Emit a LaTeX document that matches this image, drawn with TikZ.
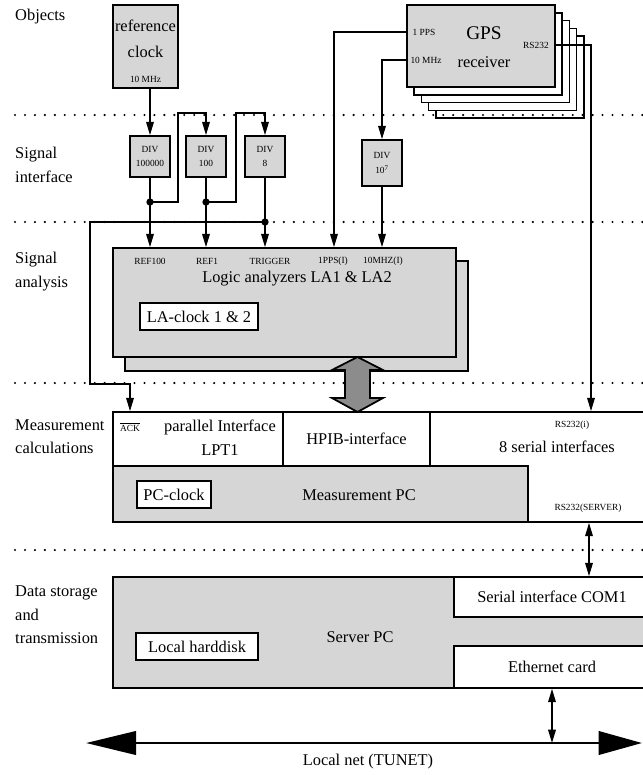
\documentclass[tikz,border=0pt]{standalone}
\usepackage{fontspec}
\setmainfont{Liberation Serif}
\usetikzlibrary{arrows.meta}

\newcommand{\pu}{0.03cm}
\newcommand{\bigfont}{\fontsize{14}{20}\selectfont}
\newcommand{\smallfont}{\fontsize{8}{12.5}\selectfont}

\tikzset{
  box/.style={draw, line width=1.5pt, inner sep=0pt},
  greybox/.style={box, fill=black!16},
  plainbox/.style={box, fill=white},
  lbl/.style={font=\bigfont, inner sep=0pt},
  port/.style={font=\smallfont, inner sep=0pt},
  sig/.style={line width=1.2pt},
  sigarrow/.style={sig, -{Triangle[length=4mm,width=2.3mm]}},
  both/.style={sig, {Triangle[length=4mm,width=2.3mm]}-{Triangle[length=4mm,width=2.3mm]}},
  sep/.style={line width=2pt, dash pattern=on 0pt off 8.5pt, line cap=round},
  net/.style={line width=2.4pt, {Triangle[length=15mm,width=7mm]}-{Triangle[length=13mm,width=7mm]}}
}

\begin{document}
\begin{tikzpicture}[x=0.03cm, y=-0.03cm]
\useasboundingbox (0,0) rectangle (643,775);
\clip (0,0) rectangle (643,775);

% layers
\node[lbl, anchor=west] (l-obj) at (15,17) {Objects};
\node[lbl, anchor=west, align=left] (l-sif) at (15,165) {Signal\\interface};
\node[lbl, anchor=west, align=left] (l-san) at (15,271.5) {Signal\\analysis};
\node[lbl, anchor=west, align=left] (l-mc) at (15,436.5) {Measurement\\calculations};
\node[lbl, anchor=west, align=left] (l-ds) at (15,615) {Data storage\\and\\transmission};

% objects
\node[greybox, minimum width=65*\pu, minimum height=83*\pu] (clk) at (145.5,46.5) {};
\node[lbl] (clk-a) at (145.5,26) {reference};
\node[lbl] (clk-b) at (145.5,52) {clock};
\node[port] (clk-f) at (145.5,79) {10 MHz};

\foreach \k in {4,3,2,1}
  \node[plainbox, minimum width=148*\pu, minimum height=82*\pu] (gps\k) at ({481+7.2*\k},{46+7.8*\k}) {};
\node[greybox, minimum width=148*\pu, minimum height=82*\pu] (gps) at (481,46) {};
\node[port] (gps-pps) at (424,32) {1 PPS};
\node[port] (gps-ten) at (426,60) {10 MHz};
\node[lbl, font=\fontsize{16.5}{18}\selectfont] (gps-a) at (484,33) {GPS};
\node[lbl] (gps-b) at (484,62) {receiver};
\node[port] (gps-rs) at (536,45) {RS232};

\foreach \y in {115,222,383,550}
  \draw[sep] (15,\y) -- (643,\y);

% signal interface
\node[greybox, minimum width=40*\pu, minimum height=41*\pu, align=center, font=\smallfont] (d1) at (150,156.5) {DIV\\100000};
\node[greybox, minimum width=40*\pu, minimum height=41*\pu, align=center, font=\smallfont] (d2) at (206,156.5) {DIV\\100};
\node[greybox, minimum width=40*\pu, minimum height=41*\pu, align=center, font=\smallfont] (d3) at (265,156.5) {DIV\\8};
\node[greybox, minimum width=40*\pu, minimum height=46*\pu, align=center, font=\smallfont] (d4) at (382,163) {DIV\\10\textsuperscript{7}};

\coordinate (j1) at (d1.south |- 0,202);
\coordinate (j2) at (d2.south |- 0,202);
\coordinate (j3) at (d3.south |- 0,222);

% signal analysis
\node[greybox, minimum width=343*\pu, minimum height=110*\pu] (la-back) at (296.5,316) {};
\node[greybox, minimum width=343*\pu, minimum height=109*\pu] (la) at (284.5,302.5) {};
\node[lbl] (la-name) at (297,279) {Logic analyzers LA1 \& LA2};
\node[plainbox, minimum width=118*\pu, minimum height=27*\pu, font=\bigfont] (laclk) at (199,316.5) {LA-clock 1 \& 2};
\node[port] (p1) at (150,261) {REF100};
\node[port] (p2) at (207,261) {REF1};
\node[port] (p3) at (270,261) {TRIGGER};
\node[port] (p4) at (333,261) {1PPS(I)};
\node[port] (p5) at (383,261) {10MHZ(I)};

% measurement
\node[plainbox, minimum width=220*\pu, minimum height=110*\pu] (ser) at (540,467) {};
\node[plainbox, minimum width=170*\pu, minimum height=54*\pu] (lpt) at (198,439) {};
\node[plainbox, minimum width=147*\pu, minimum height=54*\pu, font=\bigfont] (hpib) at (356.5,439) {HPIB-interface};
\node[greybox, minimum width=415*\pu, minimum height=56*\pu] (mpc) at (320.5,494) {};
\node[port] (ack) at (130,427) {$\overline{\mbox{ACK}}$};
\node[lbl] (lpt-a) at (220,427) {parallel Interface};
\node[lbl] (lpt-b) at (220,450) {LPT1};
\node[port] (ser-rs) at (572,425) {RS232(i)};
\node[lbl] (ser-name) at (557,447) {8 serial interfaces};
\node[plainbox, minimum width=74*\pu, minimum height=27*\pu, font=\bigfont] (pcclk) at (174,494.5) {PC-clock};
\node[lbl] (mpc-name) at (359,495) {Measurement PC};
\node[port] (ser-srv) at (588,508) {RS232(SERVER)};

% data storage
\node[greybox, minimum width=537*\pu, minimum height=111*\pu] (srv) at (381.5,632.5) {};
\node[plainbox, minimum width=196*\pu, minimum height=40*\pu, font=\bigfont] (com) at (552,597) {Serial interface COM1};
\node[plainbox, minimum width=196*\pu, minimum height=42*\pu, font=\bigfont] (eth) at (552,667) {Ethernet card};
\node[plainbox, minimum width=122*\pu, minimum height=27*\pu, font=\bigfont] (hdd) at (197,646.5) {Local harddisk};
\node[lbl] (srv-name) at (360,637) {Server PC};

% connections
\draw[sigarrow] (clk.south -| d1.north) -- (d1.north);
\draw[sig] (d1.south) -- (j1);
\draw[sig] (d2.south) -- (j2);
\draw[sig] (d3.south) -- (j3);
\draw[sigarrow] (j1) -| (178,113) -| (d2.north);
\draw[sigarrow] (j2) -| (236,113) -| (d3.north);
\draw[sigarrow] (j1) -- (j1 |- la.north);
\draw[sigarrow] (j2) -- (j2 |- la.north);
\draw[sigarrow] (j3) -- (j3 |- la.north);
\draw[sigarrow] (j3) -| (90,384) -| (lpt.north -| ack);
\foreach \j in {j1,j2,j3}
  \fill (\j) circle[radius=1.1mm];
\draw[sigarrow] (gps.west |- gps-pps) -| (la.north -| 334,0);
\draw[sigarrow] (gps.west |- gps-ten) -| (d4.north);
\draw[sigarrow] (d4.south) -- (d4.south |- la.north);
\draw[sigarrow] (gps.east |- gps-rs) -| (ser.north -| 591,0);

% bus between analyzers and PC
\draw[box, fill=black!45] (357.5,357) -- (383,370) -- (370,370) -- (370,398) -- (383,398)
  -- (357.5,412) -- (332,398) -- (345,398) -- (345,370) -- (332,370) -- cycle;

\draw[both] (ser.south -| 589,0) -- (srv.north -| 589,0);
\coordinate (netL) at (86,743);
\coordinate (netR) at (642,743);
\draw[net] (netL) -- (netR);
\draw[both] (eth.south) -- (eth.south |- netL);
\node[lbl] (net-name) at (368,762) {Local net (TUNET)};
\end{tikzpicture}
\end{document}
